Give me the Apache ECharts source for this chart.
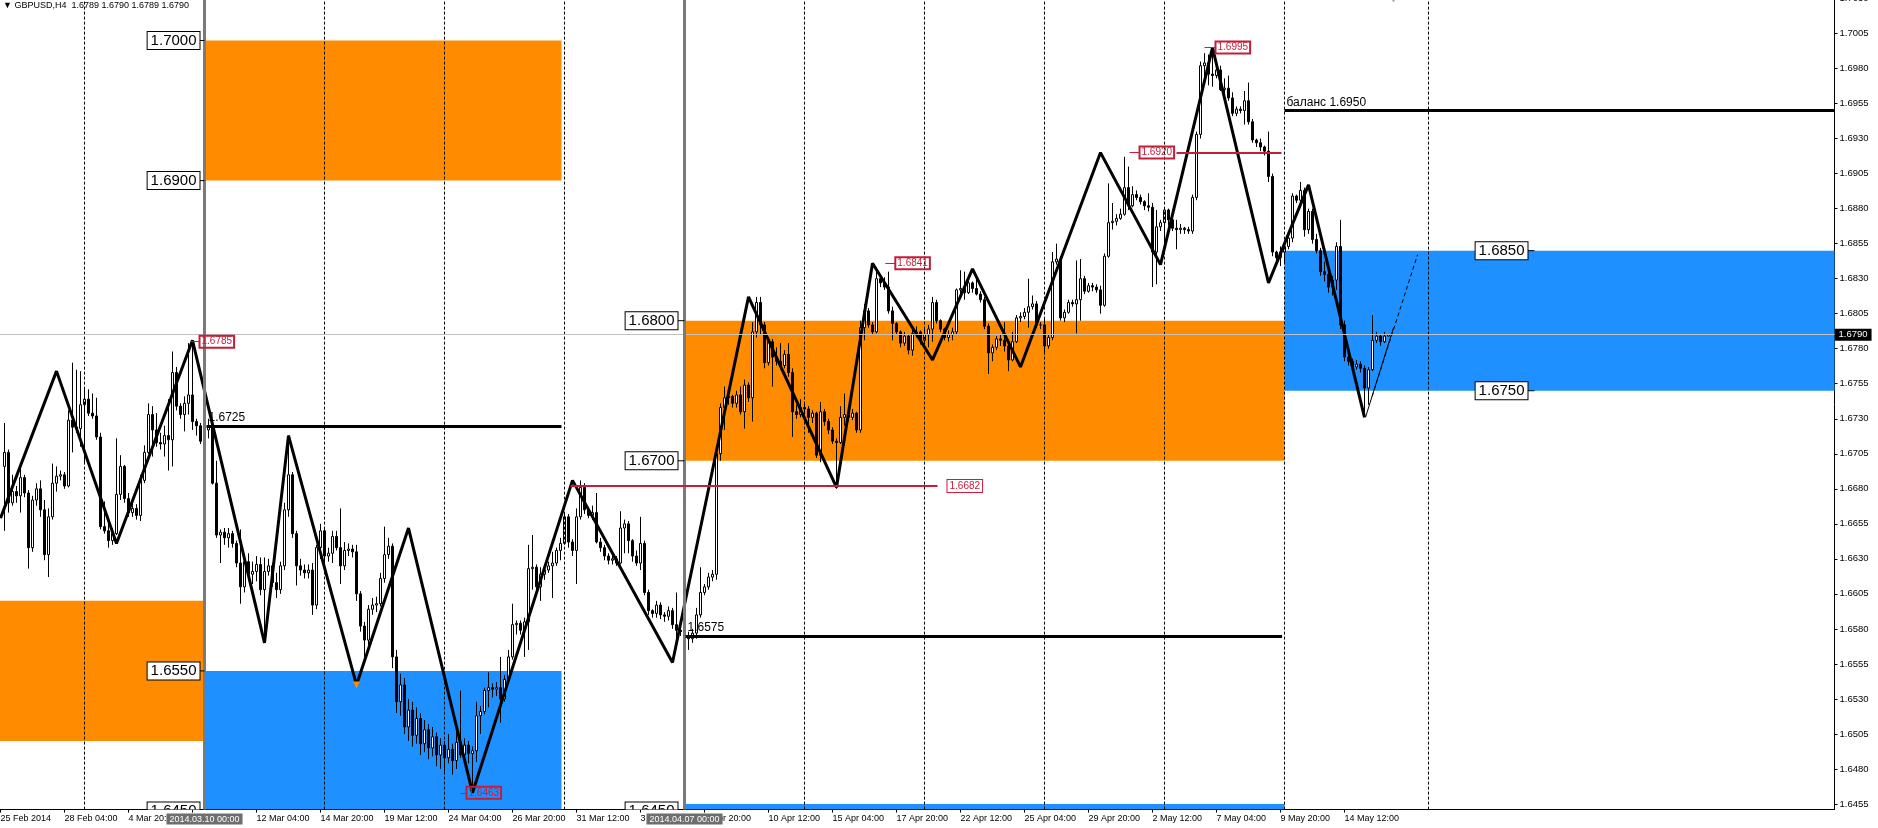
<!DOCTYPE html>
<html>
<head>
<meta charset="utf-8">
<title>GBPUSD,H4</title>
<script src="https://cdn.jsdelivr.net/npm/echarts@6/dist/echarts.min.js"></script>
<style>
  html, body { margin: 0; padding: 0; background: #fff; }
  #chart { width: 1878px; height: 828px; }
</style>
</head>
<body>
<div id="chart"></div>
<script>
// prices are pips after "1.", e.g. 6706 -> 1.6706
// one H4 bar per entry, first bar 25 Feb 2014 16:00 (slot 1)
const firstOpen = 6696;
const closes = [
  6706,6670,6678,6675,6688,6677,6638,6672,6680,6665,
  6633,6660,6684,6689,6690,6682,6729,6724,6723,6740,
  6744,6734,6732,6717,6653,6650,6643,6648,6676,6696,
  6673,6663,6666,6661,6686,6706,6733,6722,6713,6712,
  6718,6715,6763,6739,6733,6741,6747,6728,6725,6714,
  6722,6724,6684,6647,6649,6645,6648,6641,6627,6610,
  6628,6619,6621,6626,6608,6621,6625,6613,6608,6625,
  6665,6690,6648,6625,6622,6620,6622,6597,6638,6650,
  6632,6634,6646,6638,6625,6636,6637,6635,6605,6582,
  6572,6594,6597,6598,6616,6633,6639,6560,6528,6540,
  6510,6522,6504,6516,6498,6508,6495,6503,6490,6497,
  6488,6494,6486,6499,6490,6497,6491,6493,6518,6521,
  6536,6538,6537,6538,6530,6544,6560,6583,6584,6579,
  6585,6623,6624,6610,6619,6622,6625,6627,6636,6641,
  6660,6642,6636,6660,6681,6665,6661,6663,6642,6638,
  6632,6629,6630,6627,6652,6655,6643,6632,6627,6641,
  6606,6593,6591,6597,6590,6589,6593,6583,6579,6578,
  6575,6573,6577,6590,6606,6610,6617,6619,6705,6738,
  6745,6746,6741,6747,6735,6754,6745,6792,6813,6797,
  6770,6785,6774,6771,6768,6776,6763,6735,6733,6738,
  6737,6731,6734,6704,6735,6728,6722,6714,6713,6731,
  6733,6731,6734,6722,6795,6807,6797,6792,6830,6827,
  6824,6807,6798,6792,6784,6789,6779,6791,6792,6786,
  6790,6794,6813,6800,6794,6788,6790,6792,6822,6823,
  6820,6827,6823,6819,6815,6796,6777,6781,6787,6786,
  6782,6772,6785,6802,6803,6806,6810,6812,6797,6797,
  6782,6788,6842,6844,6802,6806,6813,6812,6815,6830,
  6821,6825,6824,6822,6811,6846,6870,6871,6873,6876,
  6895,6882,6890,6888,6885,6882,6881,6849,6867,6870,
  6879,6872,6866,6865,6866,6865,6864,6888,6933,6982,
  6984,6976,6975,6979,6965,6966,6959,6948,6951,6950,
  6957,6942,6929,6927,6924,6921,6903,6849,6845,6849,
  6853,6859,6889,6886,6893,6865,6878,6858,6850,6835,
  6833,6824,6829,6853,6797,6774,6771,6767,6769,6766,
  6752,6765,6786,6789,6785,6789,6790
];
const highs = [
  6727,6708,6690,6682,6696,6690,6679,6675,6684,6686,
  6672,6666,6698,6696,6693,6692,6736,6770,6765,6764,
  6752,6751,6748,6745,6720,6671,6660,6652,6716,6704,
  6697,6677,6670,6669,6690,6711,6741,6739,6734,6720,
  6725,6744,6778,6767,6741,6746,6784,6786,6730,6727,
  6726,6730,6727,6700,6651,6652,6652,6650,6643,6651,
  6632,6634,6628,6632,6631,6631,6630,6627,6620,6628,
  6670,6718,6692,6650,6630,6626,6626,6627,6640,6655,
  6652,6638,6650,6650,6666,6642,6641,6640,6640,6607,
  6585,6597,6602,6603,6620,6653,6645,6641,6565,6548,
  6545,6530,6528,6524,6520,6515,6512,6510,6506,6502,
  6500,6505,6498,6512,6536,6502,6500,6496,6528,6525,
  6538,6549,6541,6542,6560,6547,6565,6598,6586,6586,
  6588,6640,6647,6626,6624,6625,6628,6635,6638,6645,
  6662,6662,6644,6666,6686,6684,6666,6668,6677,6645,
  6640,6634,6633,6632,6664,6658,6657,6644,6636,6660,
  6643,6608,6594,6600,6599,6592,6596,6595,6606,6586,
  6582,6578,6580,6595,6624,6612,6620,6622,6708,6741,
  6753,6749,6747,6750,6753,6758,6756,6799,6817,6817,
  6799,6788,6787,6781,6784,6779,6784,6766,6740,6744,
  6741,6739,6736,6735,6742,6737,6730,6724,6716,6739,
  6748,6735,6737,6735,6800,6812,6809,6799,6838,6833,
  6831,6835,6810,6799,6793,6792,6790,6794,6796,6793,
  6795,6797,6817,6815,6801,6795,6793,6795,6823,6836,
  6835,6830,6828,6830,6821,6817,6798,6783,6789,6790,
  6799,6784,6792,6804,6806,6809,6830,6818,6814,6799,
  6802,6790,6849,6855,6846,6808,6815,6815,6843,6844,
  6832,6827,6827,6826,6825,6848,6898,6884,6876,6880,
  6917,6910,6896,6893,6890,6886,6891,6884,6879,6872,
  6881,6880,6873,6872,6869,6867,6867,6890,6935,6985,
  6991,6990,6995,6982,6982,6973,6975,6963,6953,6953,
  6964,6970,6944,6930,6930,6925,6935,6905,6850,6853,
  6856,6862,6891,6890,6899,6895,6880,6880,6862,6852,
  6842,6836,6832,6856,6872,6800,6776,6773,6772,6771,
  6768,6767,6804,6792,6790,6792,6790
];
const lows = [
  6650,6663,6668,6670,6663,6674,6623,6635,6668,6660,
  6629,6617,6658,6678,6686,6680,6681,6706,6720,6710,
  6698,6732,6730,6715,6651,6648,6638,6640,6647,6672,
  6670,6660,6660,6658,6657,6684,6705,6703,6710,6708,
  6703,6693,6696,6736,6730,6721,6733,6722,6718,6712,
  6712,6716,6683,6645,6627,6640,6638,6638,6624,6598,
  6606,6615,6612,6614,6604,6575,6618,6610,6602,6605,
  6622,6660,6645,6611,6618,6616,6616,6590,6594,6630,
  6625,6628,6627,6636,6612,6622,6632,6631,6600,6578,
  6560,6568,6590,6592,6596,6613,6630,6552,6520,6518,
  6505,6500,6496,6498,6490,6492,6487,6489,6482,6480,
  6478,6484,6476,6480,6488,6486,6484,6463,6485,6505,
  6519,6524,6531,6532,6513,6528,6542,6558,6576,6576,
  6560,6565,6608,6607,6600,6615,6620,6602,6625,6629,
  6640,6638,6632,6612,6658,6662,6659,6658,6641,6635,
  6629,6626,6626,6625,6626,6634,6634,6628,6625,6622,
  6604,6590,6588,6588,6587,6585,6586,6580,6570,6575,
  6570,6565,6570,6573,6588,6604,6608,6614,6615,6700,
  6722,6740,6738,6738,6733,6723,6742,6728,6788,6790,
  6766,6768,6753,6768,6765,6766,6760,6717,6730,6731,
  6734,6720,6727,6702,6699,6725,6719,6712,6680,6712,
  6725,6728,6729,6720,6720,6786,6795,6790,6791,6824,
  6822,6805,6786,6790,6781,6782,6776,6775,6788,6783,
  6784,6781,6785,6798,6792,6786,6785,6786,6790,6818,
  6815,6819,6820,6818,6813,6794,6762,6771,6779,6782,
  6778,6764,6771,6784,6799,6801,6795,6808,6795,6794,
  6776,6780,6786,6840,6800,6799,6805,6810,6791,6800,
  6819,6820,6821,6820,6805,6810,6845,6865,6868,6872,
  6875,6879,6881,6886,6883,6879,6878,6824,6826,6864,
  6853,6868,6864,6851,6862,6862,6862,6862,6886,6930,
  6969,6968,6967,6973,6964,6962,6957,6946,6946,6948,
  6940,6940,6927,6924,6921,6918,6899,6846,6840,6839,
  6842,6851,6856,6884,6884,6860,6862,6855,6848,6832,
  6828,6820,6818,6822,6794,6771,6768,6765,6765,6763,
  6733,6740,6764,6784,6782,6784,6789
];

// time axis: slot 0 is the left edge, then a label every 16 bars
const slotCount = 459;
const labelEvery = 16;
const timeLabels = [
  '25 Feb 2014', '28 Feb 04:00', '4 Mar 20:00', '7 Mar 12:00', '12 Mar 04:00', '14 Mar 20:00',
  '19 Mar 12:00', '24 Mar 04:00', '26 Mar 20:00', '31 Mar 12:00', '3 Apr 04:00', '7 Apr 20:00',
  '10 Apr 12:00', '15 Apr 04:00', '17 Apr 20:00', '22 Apr 12:00', '25 Apr 04:00', '29 Apr 20:00',
  '2 May 12:00', '7 May 04:00', '9 May 20:00', '14 May 12:00'
];
const markedDates = { 51: '2014.03.10 00:00', 171: '2014.04.07 00:00' };
const weekLines = [21, 51, 81, 111, 141, 171, 201, 231, 261, 291, 321, 357];
const priceTicks = [
  1.6455, 1.6480, 1.6505, 1.6530, 1.6555, 1.6580, 1.6605, 1.6630, 1.6655, 1.6680, 1.6705, 1.6730,
  1.6755, 1.6780, 1.6805, 1.6830, 1.6855, 1.6880, 1.6905, 1.6930, 1.6955, 1.6980, 1.7005, 1.7030
];
const lastPrice = 1.6790;

// zigzag pivots [slot, pips]
const zigzag = [
  [0, 6659], [14, 6764], [29, 6641], [48, 6786], [66, 6570], [72, 6718], [89, 6540], [102, 6652],
  [118, 6463], [143, 6686], [168, 6556], [187, 6817], [209, 6681], [218, 6841], [233, 6772],
  [243, 6837], [255, 6767], [275, 6920], [290, 6840], [303, 6995], [317, 6827], [327, 6897], [341, 6731]
];
const trendSolid = [[341.25, 6731], [348.25, 6795]];
const trendDashed = [[342.9, 6746], [354.25, 6847]];
const arrowMark = [89, 6540];
const shiftMark = 348.25;

// zones [fromSlot, toSlot, low, high, kind]  kind 0 = supply (orange), 1 = demand (blue)
const zones = [
  [-0.5, 51, 1.6500, 1.6600, 0],
  [51, 140.25, 1.6900, 1.7000, 0],
  [51, 140.25, 1.6350, 1.6550, 1],
  [171, 321, 1.6700, 1.6800, 0],
  [171, 321, 1.6350, 1.6455, 1],
  [321, slotCount - 0.5, 1.6750, 1.6850, 1]
];
// boxed zone prices [tickFrom, tickTo, price]
const zoneLabels = [
  [49.75, 51, 1.7000], [49.75, 51, 1.6900], [49.75, 51, 1.6550], [49.75, 51, 1.6450],
  [169.25, 171, 1.6800], [169.25, 171, 1.6700], [169.25, 171, 1.6450],
  [381.75, 383.5, 1.6850], [381.75, 383.5, 1.6750]
];
// black levels [from, to, price, text]
const blackLevels = [
  [51.5, 140.25, 1.6725, '1.6725'],
  [171.25, 320.4, 1.6575, '1.6575'],
  [321, slotCount - 0.5, 1.6950, 'баланс 1.6950']
];
// red levels [from, to, price, tagged]
const redLevels = [[142.5, 234.25, 1.6682, true], [294, 320.25, 1.6920, false]];
// red pivot tags [tickFrom, tickTo, price]
const redTags = [[47.5, 49.75, 1.6785], [115, 116.5, 1.6463], [221.2, 223.7, 1.6841], [282.25, 284.75, 1.6920], [301, 303.75, 1.6995]];

const ORANGE = '#ff8c00';
const BLUE = '#1e90ff';
const RED = '#c41e3a';
const FONT = 'Liberation Sans, Arial, sans-serif';
const zoneColors = [ORANGE, BLUE];

const toPrice = p => 1 + p / 10000;
const slotNames = Array.from({ length: slotCount }, (_, j) =>
  (j % labelEvery === 0 && timeLabels[j / labelEvery]) || '');
const candles = closes.map((c, i) => {
  const o = i === 0 ? firstOpen : closes[i - 1];
  return [i + 1, toPrice(o), toPrice(c), toPrice(lows[i]), toPrice(highs[i])];
});

const chart = echarts.init(document.getElementById('chart'));

const option = {
  animation: false,
  backgroundColor: '#ffffff',
  textStyle: { fontFamily: FONT },
  title: {
    text: '▼ GBPUSD,H4  1.6789 1.6790 1.6789 1.6790',
    left: 3, top: 1, padding: 0,
    textStyle: { fontSize: 9, fontWeight: 'normal', color: '#000', fontFamily: 'Liberation Sans, DejaVu Sans' }
  },
  // 4 px per H4 bar, bar centres on half pixels so the candles stay crisp
  grid: { left: -1.5, right: 43.5, top: -1.5, bottom: 18.4, containLabel: false, outerBoundsMode: 'none' },
  xAxis: [
    {
      type: 'category', position: 'bottom', data: slotNames, boundaryGap: true,
      axisLine: { onZero: false, lineStyle: { color: '#000', width: 1 } },
      axisTick: { show: true, alignWithLabel: true, length: 3, interval: j => slotNames[j] !== '', lineStyle: { color: '#000' } },
      axisLabel: { interval: j => slotNames[j] !== '', align: 'left', margin: 4, fontSize: 9, color: '#000' },
      splitLine: { show: false }
    },
    {
      type: 'value', position: 'top', min: -0.5, max: slotCount - 0.5, show: false,
      axisLine: { onZero: false }
    },
    {
      type: 'category', position: 'bottom', data: slotNames, z: 5,
      axisLine: { show: false, onZero: false }, axisTick: { show: false }, splitLine: { show: false },
      axisLabel: {
        interval: j => j in markedDates, formatter: (v, j) => markedDates[j],
        align: 'center', margin: 4, fontSize: 9, color: '#fff', backgroundColor: '#6e6e6e', padding: [1, 3]
      }
    }
  ],
  yAxis: [
    {
      type: 'value', position: 'right', min: 1.6451, max: 1.7030,
      axisLine: { show: true, onZero: false, lineStyle: { color: '#000' } },
      axisTick: { show: true, length: 3, customValues: priceTicks, lineStyle: { color: '#000' } },
      axisLabel: { customValues: priceTicks, formatter: v => v.toFixed(4), margin: 5, fontSize: 9.5, color: '#000' },
      splitLine: { show: false }
    },
    {
      type: 'value', position: 'right', min: 1.6451, max: 1.7030,
      axisLine: { show: false, onZero: false }, axisTick: { show: false }, splitLine: { show: false },
      axisLabel: {
        customValues: [lastPrice], formatter: v => v.toFixed(4), margin: 0, fontSize: 9.5,
        color: '#fff', backgroundColor: '#000', padding: [1, 4]
      }
    }
  ],
  series: [
    {
      type: 'custom', name: 'zones', xAxisIndex: 1, yAxisIndex: 0, z: 1, silent: true, clip: true,
      encode: { x: [0, 1], y: [2, 3] },
      data: zones,
      renderItem: (params, api) => {
        const p0 = api.coord([api.value(0), api.value(3)]);
        const p1 = api.coord([api.value(1), api.value(2)]);
        const cs = params.coordSys;
        const shape = echarts.graphic.clipRectByRect(
          { x: p0[0], y: p0[1], width: p1[0] - p0[0], height: p1[1] - p0[1] },
          { x: cs.x, y: cs.y, width: cs.width, height: cs.height });
        return shape && { type: 'rect', shape, style: { fill: zoneColors[api.value(4)] } };
      }
    },
    {
      type: 'line', name: 'grid', xAxisIndex: 1, yAxisIndex: 0, z: 1, data: [], silent: true,
      markLine: {
        silent: true, symbol: ['none', 'none'], precision: 4, label: { show: false },
        data: weekLines.map(j => ({ xAxis: j, lineStyle: { color: '#000', width: 1, type: [3, 2] } }))
          .concat([{ yAxis: lastPrice, lineStyle: { color: '#c0c0c0', width: 1, type: 'solid' } }])
      }
    },
    {
      type: 'candlestick', name: 'GBPUSD', xAxisIndex: 0, yAxisIndex: 0, z: 2,
      barWidth: 2, encode: { x: 0, y: [1, 2, 3, 4] },
      data: candles,
      itemStyle: { color: '#ffffff', color0: '#000000', borderColor: '#000000', borderColor0: '#000000', borderWidth: 1 }
    },
    {
      type: 'line', name: 'levels', xAxisIndex: 1, yAxisIndex: 0, z: 3, data: [], silent: true,
      markLine: {
        silent: true, symbol: ['none', 'none'], precision: 4,
        data: [].concat(
          Object.keys(markedDates).map(j => ({
            xAxis: +j, label: { show: false }, lineStyle: { color: '#7a7a7a', width: 3, type: 'solid' }
          })),
          blackLevels.map(l => [{
            coord: [l[0], l[2]],
            lineStyle: { color: '#000', width: 3, type: 'solid' },
            label: { show: true, position: 'insideStartTop', distance: 2, formatter: l[3], color: '#000', fontSize: 12, fontFamily: FONT }
          }, { coord: [l[1], l[2]] }]),
          redLevels.map(l => [{
            coord: [l[0], l[2]],
            lineStyle: { color: RED, width: 2, type: 'solid' },
            label: l[3] ? {
              show: true, position: 'end', distance: 10, formatter: l[2].toFixed(4), color: RED, fontSize: 10,
              fontFamily: FONT, borderColor: RED, borderWidth: 1, padding: [1, 2], backgroundColor: '#fff'
            } : { show: false }
          }, { coord: [l[1], l[2]] }]),
          redTags.map(t => [{
            coord: [t[0], t[2]],
            lineStyle: { color: RED, width: 1, type: 'solid' },
            label: {
              show: true, position: 'end', distance: 0, formatter: t[2].toFixed(4), color: RED, fontSize: 10,
              fontFamily: FONT, borderColor: RED, borderWidth: 1, padding: [1, 2], backgroundColor: 'transparent'
            }
          }, { coord: [t[1], t[2]] }])
        )
      }
    },
    {
      type: 'line', name: 'zigzag', xAxisIndex: 1, yAxisIndex: 0, z: 4, silent: true,
      data: zigzag.map(p => [p[0], toPrice(p[1])]),
      symbol: 'none', lineStyle: { color: '#000', width: 3 },
      markPoint: {
        silent: true, label: { show: false },
        data: [
          { coord: [arrowMark[0], toPrice(arrowMark[1])], symbol: 'triangle', symbolRotate: 180, symbolSize: [7, 7], itemStyle: { color: ORANGE } },
          { coord: [shiftMark, 1.7030], symbol: 'triangle', symbolRotate: 180, symbolSize: [10, 8], itemStyle: { color: '#a9a9a9' } }
        ]
      }
    },
    {
      type: 'line', name: 'trend', xAxisIndex: 1, yAxisIndex: 0, z: 4, silent: true,
      data: trendSolid.map(p => [p[0], toPrice(p[1])]),
      symbol: 'none', lineStyle: { color: '#000', width: 1 }
    },
    {
      type: 'line', name: 'projection', xAxisIndex: 1, yAxisIndex: 0, z: 4, silent: true,
      data: trendDashed.map(p => [p[0], toPrice(p[1])]),
      symbol: 'none', lineStyle: { color: '#000', width: 1, type: [4, 3] }
    },
    {
      type: 'custom', name: 'zoneLabels', xAxisIndex: 1, yAxisIndex: 0, z: 5, silent: true, clip: true,
      encode: { x: [0, 1], y: 2 },
      data: zoneLabels,
      renderItem: (params, api) => {
        const a = api.coord([api.value(0), api.value(2)]);
        const b = api.coord([api.value(1), api.value(2)]);
        return {
          type: 'group',
          children: [
            { type: 'line', shape: { x1: a[0], y1: a[1], x2: b[0], y2: b[1] }, style: { stroke: '#000', lineWidth: 1 } },
            {
              type: 'text', x: a[0], y: a[1],
              style: {
                text: api.value(2).toFixed(4), align: 'right', verticalAlign: 'middle',
                fill: '#000', font: '15px "Liberation Sans"',
                backgroundColor: '#fff', borderColor: '#000', borderWidth: 1, padding: [1, 3]
              }
            }
          ]
        };
      }
    }
  ]
};

chart.setOption(option);
</script>
</body>
</html>
